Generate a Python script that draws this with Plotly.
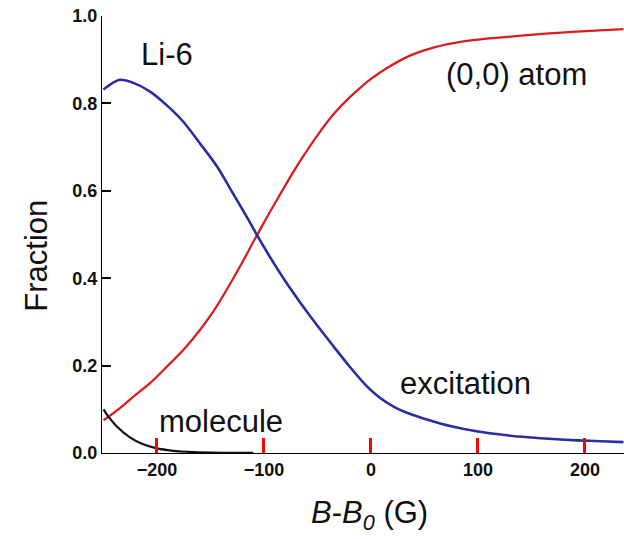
import plotly.graph_objects as go

# Detuning from the Feshbach resonance, B - B0 (G), and state fractions
field_atom = [-250, -236, -222, -206, -191, -175, -160, -147, -135, -121, -108, -98, -88,
              -77, -66, -50, -35, -19, -9, 0, 15, 37, 60, 84, 108, 131, 155, 178, 205, 236]
frac_atom = [0.075, 0.100, 0.129, 0.161, 0.197, 0.237, 0.281, 0.325, 0.373, 0.433, 0.492,
             0.536, 0.579, 0.625, 0.669, 0.727, 0.775, 0.816, 0.838, 0.856, 0.881, 0.910,
             0.929, 0.941, 0.948, 0.953, 0.958, 0.962, 0.966, 0.970]

field_exc = [-250, -242, -234.6, -222, -206.5, -191, -175.4, -160, -144, -129, -113, -108,
             -94, -80, -66, -50, -35, -20, -4, 8, 22, 38, 53, 75, 100, 125, 147, 170, 193,
             215, 236]
frac_exc = [0.832, 0.846, 0.854, 0.847, 0.827, 0.796, 0.758, 0.709, 0.656, 0.594, 0.527,
            0.505, 0.447, 0.393, 0.344, 0.291, 0.244, 0.198, 0.153, 0.127, 0.105, 0.088,
            0.076, 0.061, 0.049, 0.041, 0.036, 0.032, 0.029, 0.027, 0.025]

field_mol = [-250, -245, -238, -226, -214, -201, -185, -165, -140, -110]
frac_mol = [0.100, 0.082, 0.062, 0.037, 0.021, 0.011, 0.005, 0.002, 0.0006, 0.0002]

LABEL_FONT = dict(family="Liberation Sans, Arial, sans-serif", size=31, color="#111111")

fig = go.Figure()
fig.add_trace(go.Scatter(x=field_atom, y=frac_atom, mode="lines",
                         line=dict(color="#d81e1e", width=2.3, shape="spline",
                                   smoothing=0.8)))
fig.add_trace(go.Scatter(x=field_exc, y=frac_exc, mode="lines",
                         line=dict(color="#2a2e9e", width=2.6, shape="spline",
                                   smoothing=0.8)))
fig.add_trace(go.Scatter(x=field_mol, y=frac_mol, mode="lines",
                         line=dict(color="#111111", width=2.2, shape="spline",
                                   smoothing=0.8)))

fig.update_layout(
    font=dict(family="Liberation Sans, Arial, sans-serif", size=18, color="#111111"),
    xaxis=dict(range=[-251.4, 236.5], ticks="inside", ticklen=15, tickwidth=3,
               tickcolor="red", showline=True, linecolor="black", showgrid=False,
               tickprefix="<b>", ticksuffix="</b>"),
    yaxis=dict(range=[0, 1], ticks="inside", ticklen=9, tickwidth=2,
               tickcolor="black", showline=True, linecolor="black",
               showgrid=False, zeroline=False, tickformat=".1f",
               tickprefix="<b>", ticksuffix="</b>"),
    width=624, height=539, margin=dict(l=102, r=0, t=16, b=86),
    plot_bgcolor="white", showlegend=False)

labels = [
    (-190.7, 0.913, "Li-6"),
    (136.4, 0.867, "(0,0) atom"),
    (88, 0.158, "excitation"),
    (-140.2, 0.073, "molecule"),
]
for lx, ly, txt in labels:
    fig.add_annotation(x=lx, y=ly, text=txt, showarrow=False, xref="x", yref="y",
                       xanchor="center", yanchor="middle", font=LABEL_FONT)

fig.add_annotation(x=0.513, y=-0.142, xref="paper", yref="paper", showarrow=False,
                   text="<i>B</i>-<i>B</i><sub><i>0</i></sub> (G)",
                   xanchor="center", yanchor="middle", font=LABEL_FONT)
fig.add_annotation(x=-0.125, y=0.451, xref="paper", yref="paper", showarrow=False,
                   text="Fraction", textangle=-90,
                   xanchor="center", yanchor="middle", font=LABEL_FONT)

fig.write_html("out.html")
